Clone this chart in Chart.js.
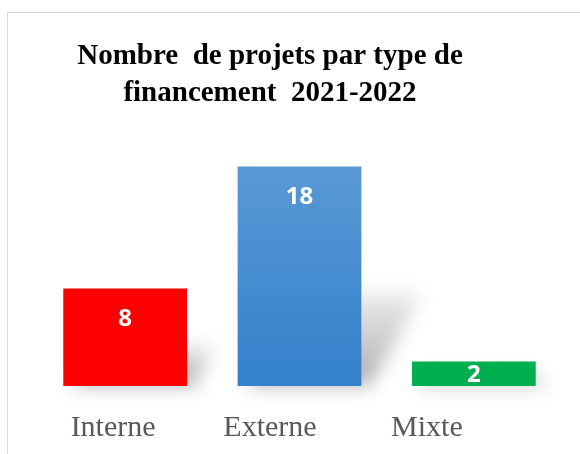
<!DOCTYPE html>
<html>
<head>
<meta charset="utf-8">
<script src="https://cdn.jsdelivr.net/npm/chart.js@4"></script>
<style>
  html, body { margin: 0; padding: 0; background: #fff; overflow: hidden; }
  #frame { position: absolute; left: 7px; top: 12px; width: 700px; height: 600px; border: 1px solid #d9d9d9; }
  #myChart { position: absolute; left: 0; top: 0; }
</style>
</head>
<body>
<div id="frame"></div>
<canvas id="myChart" width="580" height="454"></canvas>
<script>
const titleLines = ['Nombre  de projets par type de', 'financement  2021-2022'];
const categories = ['Interne', 'Externe', 'Mixte'];
const projets = [8, 18, 2];
const barColors = ['#ff0000', 'blue-gradient', '#00b050'];

// perspective shadow behind each bar
const shadowPlugin = {
    id: 'shadow',
    beforeDatasetsDraw(chart) {
        const ctx = chart.ctx;
        const bars = chart.getDatasetMeta(0).data;
        ctx.save();
        ctx.filter = 'blur(9px)';
        bars.forEach(bar => {
            const h = bar.base - bar.y;
            const x0 = bar.x - bar.width / 2, x1 = bar.x + bar.width / 2;
            const dx = h * 0.28, dy = h * 0.42;
            const g = ctx.createLinearGradient(0, bar.base, 0, bar.base - dy);
            g.addColorStop(0, 'rgba(0,0,0,0.32)');
            g.addColorStop(1, 'rgba(0,0,0,0.08)');
            ctx.fillStyle = g;
            ctx.beginPath();
            ctx.moveTo(x0 + 10, bar.base);
            ctx.lineTo(x1 + 8, bar.base);
            ctx.lineTo(x1 + dx, bar.base - dy);
            ctx.lineTo(x0 + dx, bar.base - dy);
            ctx.closePath();
            ctx.fill();
        });
        ctx.restore();
    }
};

// values, category labels and title
const textPlugin = {
    id: 'texts',
    afterDatasetsDraw(chart) {
        const ctx = chart.ctx;
        const bars = chart.getDatasetMeta(0).data;
        ctx.save();
        ctx.textAlign = 'center';
        ctx.textBaseline = 'middle';
        ctx.fillStyle = '#ffffff';
        ctx.font = 'bold 24px "Open Sans"';
        bars.forEach((bar, i) => {
            const y = Math.min(bar.y + 30, (bar.y + bar.base) / 2);
            ctx.fillText(String(projets[i]), bar.x, y + 1);
        });

        ctx.textBaseline = 'alphabetic';
        ctx.fillStyle = '#595959';
        ctx.font = '30px "Liberation Serif"';
        const mid = (chart.chartArea.left + chart.chartArea.right) / 2;
        bars.forEach((bar, i) => {
            const x = 270 + (bar.x - mid) * 0.9;
            ctx.fillText(categories[i], x, 436);
        });

        ctx.fillStyle = '#000000';
        ctx.font = 'bold 29px "Liberation Serif"';
        titleLines.forEach((line, i) => {
            ctx.fillText(line, 270, 64 + i * 37);
        });
        ctx.restore();
    }
};

const chart = new Chart(document.getElementById('myChart').getContext('2d'), {
    type: 'bar',
    data: {
        labels: categories,
        datasets: [{
            label: 'Nombre de projets',
            data: projets,
            backgroundColor: (c) => {
                const col = barColors[c.dataIndex];
                if (col !== 'blue-gradient') return col;
                const area = c.chart.chartArea;
                if (!area) return '#4a8fd2';
                const g = c.chart.ctx.createLinearGradient(0, area.top, 0, area.bottom);
                g.addColorStop(0, '#5d9cd6');
                g.addColorStop(1, '#3380cb');
                return g;
            },
            borderWidth: 0,
            barPercentage: 0.71,
            categoryPercentage: 1.0
        }]
    },
    options: {
        responsive: false,
        animation: false,
        layout: { padding: { left: 38, right: 19, top: 142, bottom: 68 } },
        plugins: {
            legend: { display: false },
            title: { display: false },
            tooltip: { enabled: false }
        },
        scales: {
            x: { display: false },
            y: { display: false, min: 0, max: 20 }
        }
    },
    plugins: [shadowPlugin, textPlugin]
});
</script>
</body>
</html>
